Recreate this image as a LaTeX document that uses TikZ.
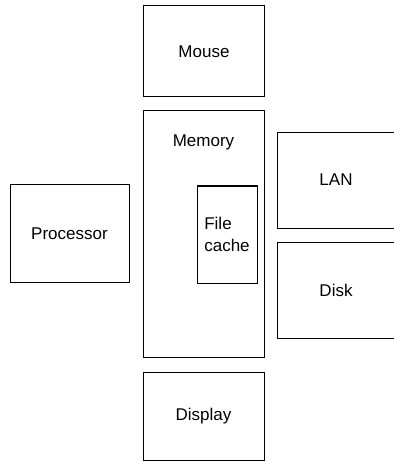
\documentclass[tikz,border=0pt]{standalone}
\usepackage{fontspec}
\setmainfont{Liberation Sans}
\usepackage{tikz}
\usetikzlibrary{positioning}

\begin{document}
\begin{tikzpicture}[x=1pt, y=-1pt,
  box/.style={draw, line width=1pt, inner sep=0pt},
  every node/.style={font=\fontsize{17}{22}\selectfont}]
  \useasboundingbox (0,0) rectangle (393,462);

  \node [box, minimum width=121pt, minimum height=91pt] (mouse) at (204,51.5) {Mouse};
  \node [box, minimum width=121pt, minimum height=246pt] (memory) at (203.5,234) {};
  \node [below=32pt of memory.north, anchor=center] (memlabel) {Memory};
  \node [box, minimum width=60pt, minimum height=97pt] (cache) at (227,234.5) {};
  \node [align=left] (cachelabel) at (cache.center) {File\\cache};
  \node [box, minimum width=119pt, minimum height=97pt] (proc) at (69.5,233.5) {Processor};
  \node [box, minimum width=120pt, minimum height=96pt, anchor=north west] (lan) at (277,132) {};
  \node (lanlabel) at (336,180) {LAN};
  \node [box, minimum width=120pt, minimum height=96pt, anchor=north west] (disk) at (277,242) {};
  \node (disklabel) at (336,290) {Disk};
  \node [box, minimum width=121pt, minimum height=88pt] (display) at (203.5,416) {Display};
\end{tikzpicture}
\end{document}
